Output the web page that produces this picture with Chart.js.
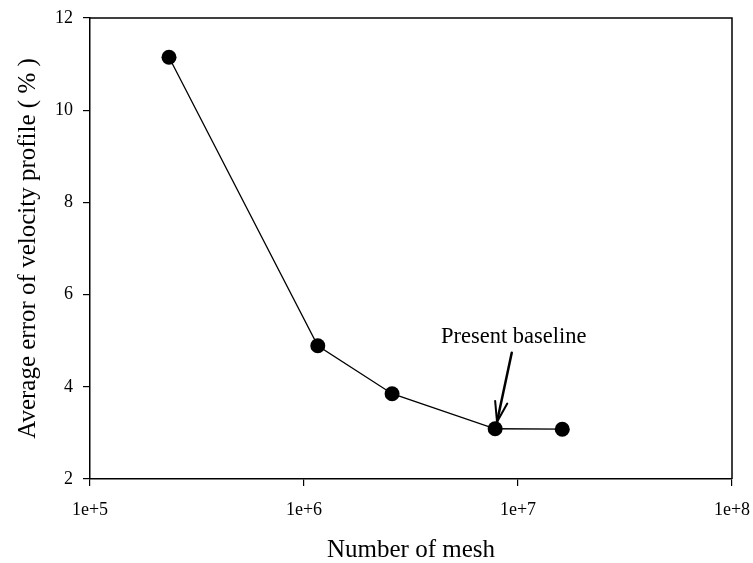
<!DOCTYPE html>
<html>
<head>
<meta charset="utf-8">
<script src="https://cdn.jsdelivr.net/npm/chart.js@4"></script>
<style>
  html, body { margin: 0; padding: 0; background: #fff; }
  #wrap { width: 753px; height: 563px; }
</style>
</head>
<body>
<div id="wrap"><canvas id="grafico" width="753" height="563"></canvas></div>
<script>
// Datos del gráfico
const mallas = [2.34e5, 1.16e6, 2.58e6, 7.82e6, 1.61e7];   // número de celdas
const errores = [11.15, 4.89, 3.85, 3.09, 3.08];           // error medio (%)
const ticksX = [1e5, 1e6, 1e7, 1e8];
const ticksY = [2, 4, 6, 8, 10, 12];

// Anotación "Present baseline" (coordenadas de datos)
const textoNota = 'Present baseline';
const posNota = [9.55e6, 5.07];
const colaFlecha = [9.35e6, 4.74];
const puntaFlecha = [7.98e6, 3.24];

const fuente = '"Liberation Serif", "Times New Roman", serif';

// Marco superior/derecho y flecha de la anotación
const pluginMarco = {
  id: 'marco',
  afterDraw(chart) {
    const { ctx, chartArea: a, scales } = chart;
    ctx.save();
    ctx.strokeStyle = '#000';
    ctx.lineWidth = 1.5;
    ctx.beginPath();
    ctx.moveTo(a.left, a.top);
    ctx.lineTo(a.right, a.top);
    ctx.lineTo(a.right, a.bottom);
    ctx.stroke();

    // texto
    const tx = scales.x.getPixelForValue(posNota[0]);
    const ty = scales.y.getPixelForValue(posNota[1]);
    ctx.fillStyle = '#000';
    ctx.font = '22.5px ' + fuente;
    ctx.textAlign = 'center';
    ctx.textBaseline = 'middle';
    ctx.fillText(textoNota, tx, ty);

    // flecha
    const x1 = scales.x.getPixelForValue(colaFlecha[0]);
    const y1 = scales.y.getPixelForValue(colaFlecha[1]);
    const x2 = scales.x.getPixelForValue(puntaFlecha[0]);
    const y2 = scales.y.getPixelForValue(puntaFlecha[1]);
    ctx.lineWidth = 2.5;
    ctx.lineCap = 'round';
    ctx.beginPath();
    ctx.moveTo(x1, y1);
    ctx.lineTo(x2, y2);
    ctx.stroke();
    const ang = Math.atan2(y2 - y1, x2 - x1);
    const largo = 21, abre = 0.3;
    ctx.lineWidth = 2;
    ctx.beginPath();
    ctx.moveTo(x2 - largo * Math.cos(ang - abre), y2 - largo * Math.sin(ang - abre));
    ctx.lineTo(x2, y2);
    ctx.lineTo(x2 - largo * Math.cos(ang + abre), y2 - largo * Math.sin(ang + abre));
    ctx.stroke();
    ctx.restore();
  }
};

new Chart(document.getElementById('grafico'), {
  type: 'line',
  data: {
    datasets: [{
      data: mallas.map((m, i) => ({ x: m, y: errores[i] })),
      borderColor: '#000',
      borderWidth: 1.3,
      backgroundColor: '#000',
      pointRadius: 7.5,
      pointHoverRadius: 7.5,
      pointBackgroundColor: '#000',
      pointBorderWidth: 0,
      tension: 0
    }]
  },
  options: {
    responsive: false,
    animation: false,
    layout: { padding: { top: 18, right: 21, left: 0, bottom: 0 } },
    plugins: { legend: { display: false }, tooltip: { enabled: false } },
    scales: {
      x: {
        type: 'logarithmic',
        min: 1e5,
        max: 1e8,
        afterBuildTicks: axis => { axis.ticks = ticksX.map(v => ({ value: v })); },
        afterFit: axis => { axis.height = 84; axis.paddingLeft = 0; axis.paddingRight = 0; },
        border: { display: true, color: '#000', width: 1.5 },
        grid: { drawOnChartArea: false, drawTicks: true, tickLength: 7, color: '#000', lineWidth: 1.2 },
        ticks: {
          color: '#000',
          font: { family: fuente, size: 18 },
          padding: 13,
          maxRotation: 0,
          autoSkip: false,
          callback: v => '1e+' + Math.round(Math.log10(v))
        },
        title: {
          display: true,
          text: 'Number of mesh',
          color: '#000',
          font: { family: fuente, size: 25, lineHeight: 1 },
          padding: { top: 0, bottom: 0 }
        }
      },
      y: {
        min: 2,
        max: 12,
        afterBuildTicks: axis => { axis.ticks = ticksY.map(v => ({ value: v })); },
        afterFit: axis => { axis.width = 90; axis.paddingTop = 0; axis.paddingBottom = 0; },
        border: { display: true, color: '#000', width: 1.5 },
        grid: { drawOnChartArea: false, drawTicks: true, tickLength: 7, color: '#000', lineWidth: 1.2 },
        ticks: {
          color: '#000',
          font: { family: fuente, size: 18 },
          padding: 10
        },
        title: {
          display: true,
          text: 'Average error of velocity profile ( % )',
          color: '#000',
          font: { family: fuente, size: 25, lineHeight: 1.2 },
          padding: { top: 13, bottom: 13 }
        }
      }
    }
  },
  plugins: [pluginMarco]
});
</script>
</body>
</html>
